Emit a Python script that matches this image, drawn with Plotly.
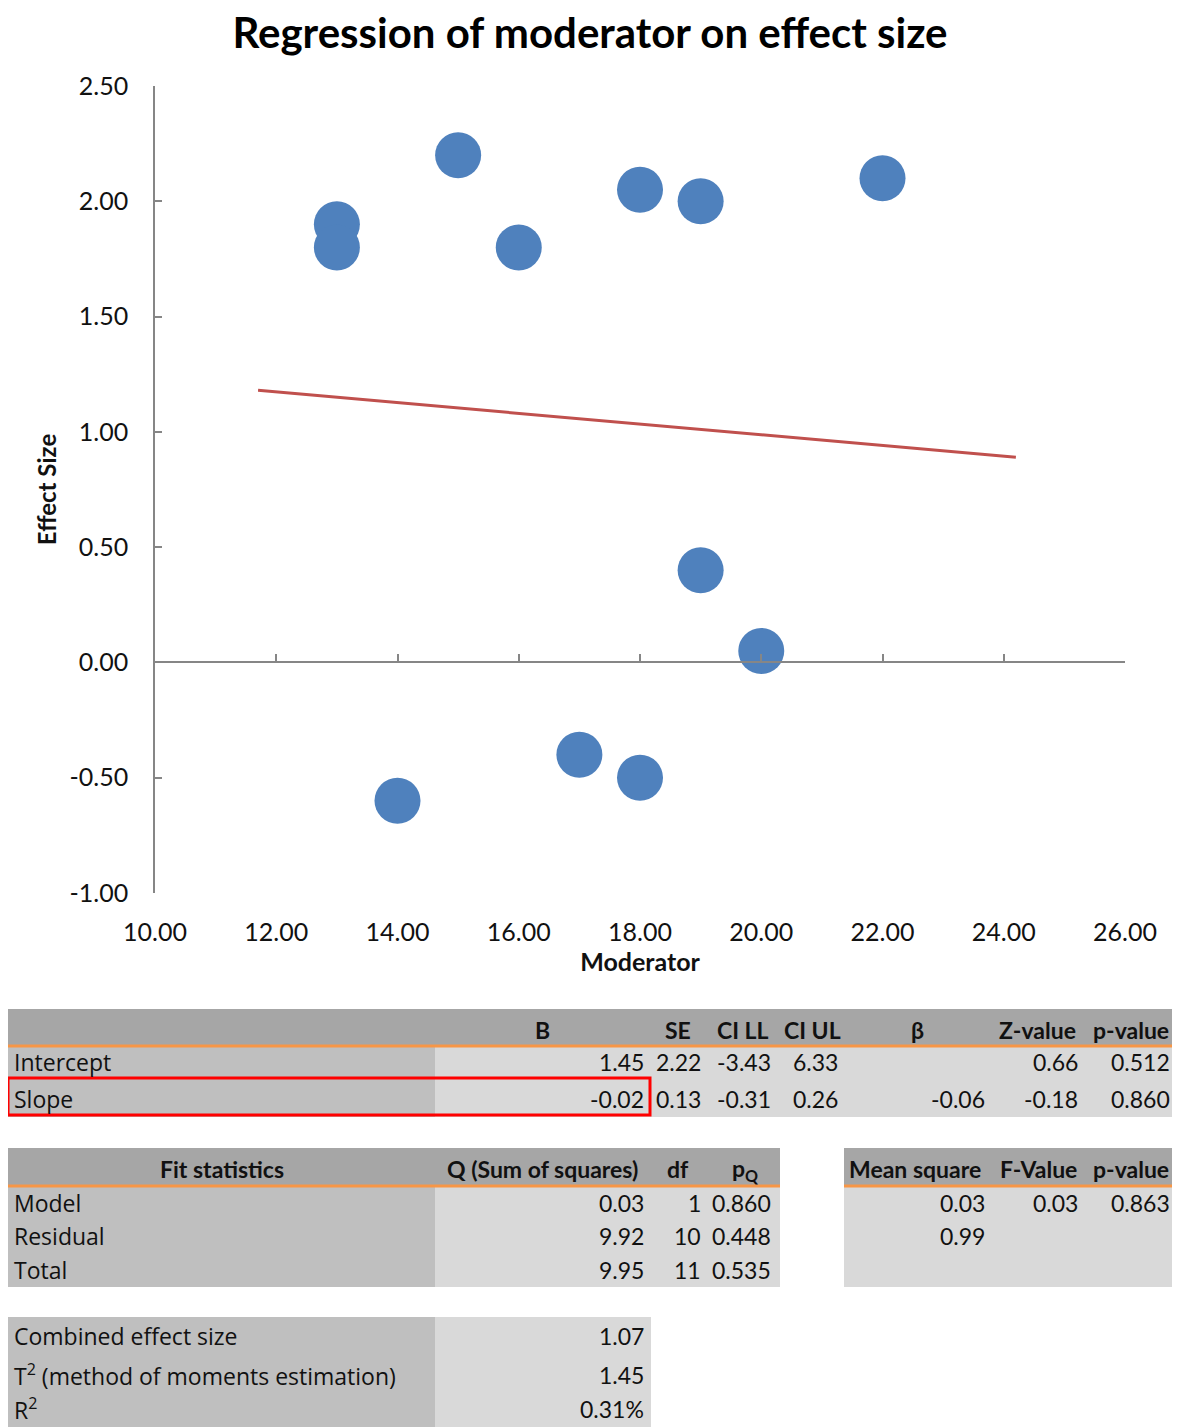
import plotly.graph_objects as go

# ---------------- data ----------------
moderator = [13, 13, 15, 16, 18, 19, 22, 19, 20, 17, 18, 14]
effect_size = [1.9, 1.8, 2.2, 1.8, 2.05, 2.0, 2.1, 0.4, 0.05, -0.4, -0.5, -0.6]
reg_line_x = [11.7, 24.2]
reg_line_y = [1.18, 0.89]
x_ticks = [10, 12, 14, 16, 18, 20, 22, 24, 26]
y_ticks = [-1.0, -0.5, 0.0, 0.5, 1.0, 1.5, 2.0, 2.5]

coef_headers = ["B", "SE", "CI LL", "CI UL", "β", "Z-value", "p-value"]
coef_rows = ["Intercept", "Slope"]
intercept_vals = ["1.45", "2.22", "-3.43", "6.33", "", "0.66", "0.512"]
slope_vals = ["-0.02", "0.13", "-0.31", "0.26", "-0.06", "-0.18", "0.860"]

fit_headers = ["Fit statistics", "Q (Sum of squares)", "df", "p<sub>Q</sub>"]
fit_rows = ["Model", "Residual", "Total"]
fit_q = ["0.03", "9.92", "9.95"]
fit_df = ["1", "10", "11"]
fit_p = ["0.860", "0.448", "0.535"]

anova_headers = ["Mean square", "F-Value", "p-value"]
mean_square = ["0.03", "0.99", ""]
f_value = ["0.03", "", ""]
anova_p = ["0.863", "", ""]

summary_labels = ["Combined effect size", "T<sup>2</sup> (method of moments estimation)", "R<sup>2</sup>"]
summary_vals = ["1.07", "1.45", "0.31%"]

# ---------------- layout helpers ----------------
# the page body has an 8px margin, so the figure is drawn 8px in from the corner
OFF = 8
W, H = 1180 - OFF, 1427 - OFF
FONT = "Lato"
LABEL_FONT = "Open Sans"
HDR_GRAY = "#A6A6A6"
LBL_GRAY = "#BFBFBF"
VAL_GRAY = "#D9D9D9"
ORANGE = "#F79646"
TXT = "#111111"


def px(x):
    return (x - OFF) / W


def py(y):
    return 1 - (y - OFF) / H


shapes = []
annotations = []


def rect(x0, y0, x1, y1, fill, line=None, lw=0):
    shapes.append(dict(type="rect", xref="paper", yref="paper",
                       x0=px(x0), x1=px(x1), y0=py(y1), y1=py(y0),
                       fillcolor=fill if fill else "rgba(0,0,0,0)",
                       line=dict(color=line if line else "rgba(0,0,0,0)", width=lw)))


def hline(x0, x1, y, color, w):
    shapes.append(dict(type="line", xref="paper", yref="paper",
                       x0=px(x0), x1=px(x1), y0=py(y), y1=py(y),
                       line=dict(color=color, width=w)))


def text(x, y, s, anchor="right", bold=False, size=23, family=FONT, color=TXT):
    annotations.append(dict(xref="paper", yref="paper", x=px(x), y=py(y),
                            text=("<b>%s</b>" % s) if bold else s,
                            showarrow=False, xanchor=anchor, yanchor="middle",
                            font=dict(family=family, size=size, color=color)))


# ---- coefficient table ----
rect(8, 1009, 1178, 1046, HDR_GRAY)
rect(8, 1046, 435, 1117, LBL_GRAY)
rect(435, 1046, 1178, 1117, VAL_GRAY)
hline(8, 1178, 1046, ORANGE, 3)
coef_hdr_cx = [542, 678, 743, 812, 917, 1037, 1131]
coef_val_rx = [646, 703, 773, 840, 987, 1080, 1172]
for h, cx in zip(coef_headers, coef_hdr_cx):
    text(cx, 1030, h, anchor="center", bold=True)
for rowname, vals, yc in zip(coef_rows, [intercept_vals, slope_vals], [1062, 1099]):
    text(12, yc, rowname, anchor="left", family=LABEL_FONT, size=23)
    for v, rx in zip(vals, coef_val_rx):
        if v:
            text(rx, yc, v)
rect(8, 1078, 650, 1115, None, line="#FF0000", lw=3)

# ---- fit statistics table ----
rect(8, 1148, 780, 1186, HDR_GRAY)
rect(8, 1186, 435, 1287, LBL_GRAY)
rect(435, 1186, 780, 1287, VAL_GRAY)
hline(8, 780, 1186, ORANGE, 3)
fit_hdr_cx = [222, 542, 678, 745]
for h, cx in zip(fit_headers, fit_hdr_cx):
    text(cx, 1169, h, anchor="center", bold=True)
fit_row_y = [1203, 1236, 1270]
for i, yc in enumerate(fit_row_y):
    text(12, yc, fit_rows[i], anchor="left", family=LABEL_FONT, size=23)
    text(646, yc, fit_q[i])
    text(703, yc, fit_df[i])
    text(773, yc, fit_p[i])

# ---- anova table ----
rect(844, 1148, 1178, 1186, HDR_GRAY)
rect(844, 1186, 1178, 1287, VAL_GRAY)
hline(844, 1178, 1186, ORANGE, 3)
for h, cx in zip(anova_headers, [915, 1038, 1131]):
    text(cx, 1169, h, anchor="center", bold=True)
for i, yc in enumerate(fit_row_y):
    for v, rx in zip([mean_square[i], f_value[i], anova_p[i]], [987, 1080, 1172]):
        if v:
            text(rx, yc, v)

# ---- summary table ----
rect(8, 1317, 435, 1427, LBL_GRAY)
rect(435, 1317, 651, 1427, VAL_GRAY)
for lab, val, yc in zip(summary_labels, summary_vals, [1336, 1375, 1409]):
    text(12, yc, lab, anchor="left", family=LABEL_FONT, size=23)
    text(646, yc, val)

# ---------------- chart ----------------
x_dom = [px(155), px(1125)]
y_dom = [py(893), py(86)]
y_min, y_max = y_ticks[0], y_ticks[-1]
zero_pos = y_dom[0] + (0 - y_min) / (y_max - y_min) * (y_dom[1] - y_dom[0])

fig = go.Figure()
fig.add_trace(go.Scatter(x=moderator, y=effect_size, mode="markers",
                         marker=dict(size=46, color="#4F81BD", line=dict(width=0)),
                         showlegend=False))
fig.add_trace(go.Scatter(x=reg_line_x, y=reg_line_y, mode="lines", xaxis="x2",
                         line=dict(color="#C0504D", width=3), showlegend=False))

AX_COL = "#868686"
fig.update_layout(
    width=W, height=H,
    margin=dict(l=0, r=0, t=0, b=0),
    paper_bgcolor="white", plot_bgcolor="white",
    font=dict(family=FONT, color=TXT),
    title=dict(text="<b>Regression of moderator on effect size</b>",
               x=px(590), xanchor="center", y=py(33), yanchor="middle",
               font=dict(family=FONT, size=42, color="black")),
    xaxis=dict(domain=x_dom, range=[x_ticks[0], x_ticks[-1]], tickvals=x_ticks,
               ticktext=["%.2f" % v for v in x_ticks], showline=False, ticks="",
               showgrid=False, zeroline=False, anchor="y", ticklabelstandoff=22,
               tickfont=dict(size=25, color=TXT),
               title=dict(text="<b>Moderator</b>", standoff=4,
                          font=dict(size=25, color=TXT)),
               automargin=False),
    xaxis2=dict(domain=x_dom, range=[x_ticks[0], x_ticks[-1]], tickvals=x_ticks,
                overlaying="x", anchor="free", position=zero_pos, side="bottom",
                showline=True, linecolor=AX_COL, linewidth=1.5,
                ticks="inside", ticklen=8, tickcolor=AX_COL, tickwidth=1.5,
                showticklabels=False, showgrid=False, zeroline=False, automargin=False),
    yaxis=dict(domain=y_dom, range=[y_min, y_max], tickvals=y_ticks,
               ticktext=["%.2f" % v for v in y_ticks], showline=True,
               linecolor=AX_COL, linewidth=1.5, ticks="inside", ticklen=7,
               tickcolor=AX_COL, tickwidth=1.5, showgrid=False, zeroline=False,
               ticklabelstandoff=20, tickfont=dict(size=25, color=TXT),
               title=dict(text="<b>Effect Size</b>", standoff=6,
                          font=dict(size=24, color=TXT)),
               automargin=False),
    shapes=shapes,
    annotations=annotations,
)

fig.write_html("out.html")
